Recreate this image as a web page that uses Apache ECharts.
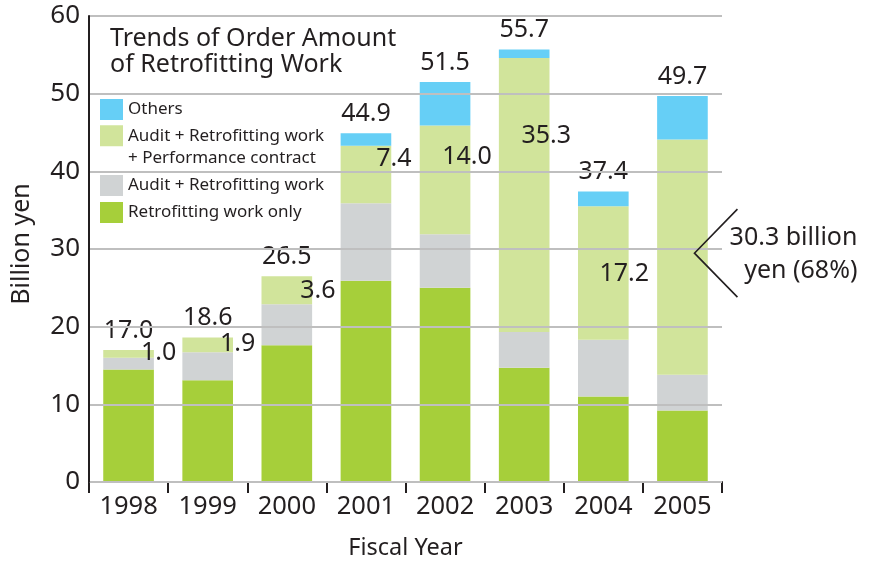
<!DOCTYPE html>
<html>
<head>
<meta charset="utf-8">
<script src="https://cdn.jsdelivr.net/npm/echarts@6/dist/echarts.min.js"></script>
<style>
  html, body { margin: 0; padding: 0; background: #ffffff; }
  #chart { width: 871px; height: 567px; }
</style>
</head>
<body>
<div id="chart"></div>
<script>
// Order amount of retrofitting work by fiscal year (billion yen)
const years = ['1998', '1999', '2000', '2001', '2002', '2003', '2004', '2005'];
const retrofitOnly      = [14.5, 13.1, 17.6, 25.9, 25.0, 14.7, 11.0, 9.2];
const auditRetrofit     = [1.5, 3.6, 5.3, 10.0, 6.9, 4.6, 7.3, 4.6];
const auditRetrofitPerf = [1.0, 1.9, 3.6, 7.4, 14.0, 35.3, 17.2, 30.3];
const others            = [0, 0, 0, 1.6, 5.6, 1.1, 1.9, 5.6];

const yMin = 0, yMax = 60, yStep = 10;

const seriesNames = {
  retrofitOnly: 'Retrofitting work only',
  auditRetrofit: 'Audit + Retrofitting work',
  auditRetrofitPerf: 'Audit + Retrofitting work\n+ Performance contract',
  others: 'Others'
};

const chartTitle = 'Trends of Order Amount\nof Retrofitting Work';
const calloutText = '30.3 billion\nyen (68%)';

// Label placement for the performance-contract segment values (px offsets from segment centre)
const perfLabelOffsets = [[30, -1], [30, -1], [31, 1], [28, -16], [22, -23], [22, -59], [21, 1], null];

const INK = '#231f20';
const FONT = '"Noto Sans", "Open Sans", sans-serif';
const colors = {
  retrofitOnly: '#a6cf3a',
  auditRetrofit: '#d0d3d4',
  auditRetrofitPerf: '#d1e49b',
  others: '#66cff6'
};

const totals = years.map((_, i) =>
  retrofitOnly[i] + auditRetrofit[i] + auditRetrofitPerf[i] + others[i]);

const chart = echarts.init(document.getElementById('chart'), null, { renderer: 'canvas' });

const legendText = { fontSize: 17, color: INK, fontFamily: FONT };
const legendBase = {
  orient: 'vertical',
  left: 100,
  padding: 0,
  itemWidth: 23,
  itemHeight: 21,
  icon: 'rect',
  selectedMode: false,
  textStyle: legendText
};

const barBase = {
  type: 'bar',
  stack: 'total',
  barWidth: '64%',
  emphasis: { disabled: true }
};

const option = {
  animation: false,
  backgroundColor: '#ffffff',
  textStyle: { fontFamily: FONT, color: INK },
  title: {
    text: chartTitle,
    left: 110,
    top: 26,
    padding: 0,
    textStyle: { fontSize: 25, lineHeight: 26, fontWeight: 'normal', color: INK, fontFamily: FONT }
  },
  legend: [
    Object.assign({}, legendBase, { top: 99, data: [seriesNames.others] }),
    // two-line entry: a leading blank line keeps the first line level with the swatch
    Object.assign({}, legendBase, {
      top: 102,
      data: [seriesNames.auditRetrofitPerf],
      formatter: (name) => ' \n' + name,
      textStyle: Object.assign({}, legendText, { lineHeight: 22.5 })
    }),
    Object.assign({}, legendBase, { top: 175, data: [seriesNames.auditRetrofit] }),
    Object.assign({}, legendBase, { top: 202, data: [seriesNames.retrofitOnly] })
  ],
  grid: {
    left: 89, right: 149, top: 16, bottom: 85,
    containLabel: false,
    outerBoundsMode: 'none'
  },
  xAxis: {
    type: 'category',
    data: years,
    name: 'Fiscal Year',
    nameLocation: 'middle',
    nameGap: 54,
    nameMoveOverlap: false,
    nameTextStyle: { fontSize: 23.5, color: INK, fontFamily: FONT },
    axisLine: { show: true, lineStyle: { color: INK, width: 2 } },
    axisTick: { show: true, length: 11, alignWithLabel: false, lineStyle: { color: INK, width: 2 } },
    axisLabel: { fontSize: 25.5, color: INK, margin: 12, fontFamily: FONT },
    splitLine: { show: false }
  },
  yAxis: {
    type: 'value',
    min: yMin,
    max: yMax,
    interval: yStep,
    z: 3,
    name: 'Billion yen',
    nameLocation: 'middle',
    nameGap: 55,
    nameMoveOverlap: false,
    nameTextStyle: { fontSize: 25, color: INK, fontFamily: FONT, padding: [0, 0, 0, 10] },
    axisLine: { show: true, lineStyle: { color: INK, width: 2 } },
    axisTick: { show: false },
    axisLabel: { fontSize: 26, color: INK, margin: 9, fontFamily: FONT, padding: [5, 0, 0, 0] },
    splitLine: { show: true, lineStyle: { color: '#bfbfbf', width: 2 } }
  },
  series: [
    Object.assign({}, barBase, {
      name: seriesNames.retrofitOnly,
      itemStyle: { color: colors.retrofitOnly },
      data: retrofitOnly
    }),
    Object.assign({}, barBase, {
      name: seriesNames.auditRetrofit,
      itemStyle: { color: colors.auditRetrofit },
      data: auditRetrofit
    }),
    Object.assign({}, barBase, {
      name: seriesNames.auditRetrofitPerf,
      itemStyle: { color: colors.auditRetrofitPerf },
      data: auditRetrofitPerf.map((v, i) => ({
        value: v,
        label: perfLabelOffsets[i]
          ? { show: true, position: 'inside', offset: perfLabelOffsets[i] }
          : { show: false }
      })),
      label: {
        fontSize: 25,
        color: INK,
        fontFamily: FONT,
        formatter: (p) => p.value.toFixed(1)
      }
    }),
    Object.assign({}, barBase, {
      name: seriesNames.others,
      itemStyle: { color: colors.others },
      data: others,
      label: {
        show: true,
        position: 'top',
        distance: 7,
        fontSize: 25,
        color: INK,
        fontFamily: FONT,
        formatter: (p) => totals[p.dataIndex].toFixed(1)
      }
    })
  ]
};

chart.setOption(option);

// Bracket callout for the 2005 performance-contract share
const last = years.length - 1;
const perfMid = retrofitOnly[last] + auditRetrofit[last] + auditRetrofitPerf[last] / 2;
const anchor = chart.convertToPixel({ gridIndex: 0 }, [years[last], perfMid]);
const vx = anchor[0] + 12;
const vy = anchor[1] - 4;

chart.setOption({
  graphic: [
    {
      type: 'polyline',
      z: 10,
      shape: { points: [[vx + 43, vy - 44], [vx, vy], [vx + 43, vy + 44]] },
      style: { stroke: INK, lineWidth: 1.6, fill: null }
    },
    {
      type: 'text',
      z: 10,
      x: vx + 163,
      y: vy + 1,
      style: {
        text: calloutText,
        fontSize: 25,
        lineHeight: 33,
        fontFamily: FONT,
        fill: INK,
        align: 'right',
        verticalAlign: 'middle'
      }
    }
  ]
});
</script>
</body>
</html>
